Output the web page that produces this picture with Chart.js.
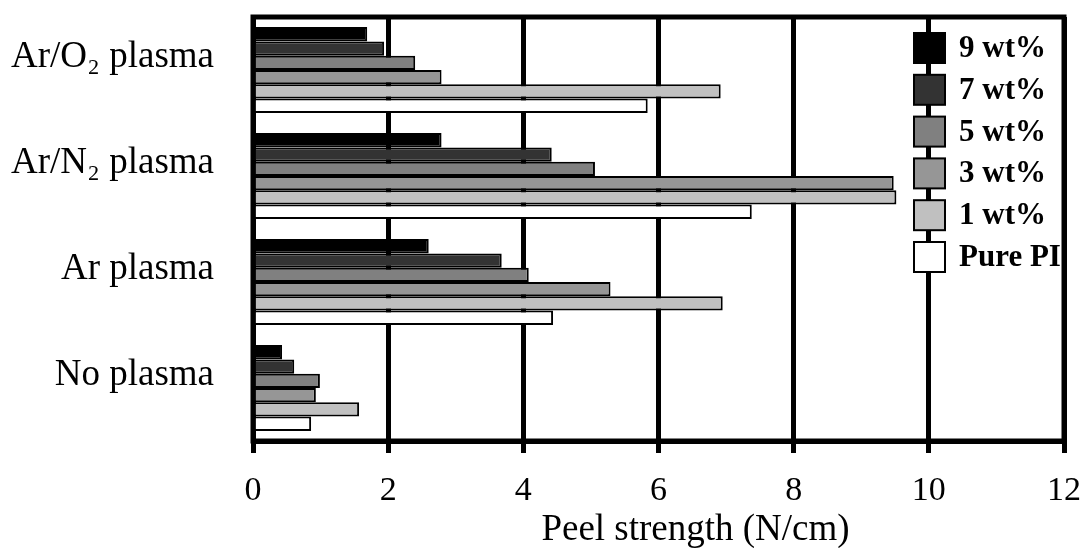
<!DOCTYPE html>
<html>
<head>
<meta charset="utf-8">
<script src="https://cdn.jsdelivr.net/npm/chart.js@4.4.0/dist/chart.umd.min.js"></script>
<style>
  html, body { margin: 0; padding: 0; background: #fff; }
</style>
</head>
<body>
<canvas id="myChart" width="1083" height="548"></canvas>
<script>
'use strict';

// data (N/cm)
var categories = ['Ar/O\u2082 plasma', 'Ar/N\u2082 plasma', 'Ar plasma', 'No plasma'];
var seriesNames = ['9 wt%', '7 wt%', '5 wt%', '3 wt%', '1 wt%', 'Pure PI'];
var seriesColors = ['#000000', '#333333', '#808080', '#969696', '#c0c0c0', '#ffffff'];
var wt9 = [1.69, 2.79, 2.60, 0.43];
var wt7 = [1.94, 4.42, 3.68, 0.61];
var wt5 = [2.40, 5.06, 4.08, 0.99];
var wt3 = [2.79, 9.48, 5.29, 0.93];
var wt1 = [6.92, 9.52, 6.95, 1.57];
var purePI = [5.84, 7.38, 4.44, 0.86];
var xMin = 0, xMax = 12, xStep = 2;

var seriesValues = [wt9, wt7, wt5, wt3, wt1, purePI];

var datasets = [];
for (var i = 0; i < seriesNames.length; i++) {
  datasets.push({
    label: seriesNames[i],
    data: seriesValues[i],
    backgroundColor: seriesColors[i],
    borderColor: '#000',
    borderWidth: 2,
    categoryPercentage: 0.81,
    barPercentage: 1.0
  });
}

// no extra room for overhanging tick labels, the plot area is fixed
function noPad(scale) {
  scale.paddingTop = 0;
  scale.paddingBottom = 0;
  scale.paddingLeft = 0;
  scale.paddingRight = 0;
}

// thick frame around the plot area, drawn over the bar ends
var framePlugin = {
  id: 'frame',
  afterDatasetsDraw: function(chart) {
    var a = chart.chartArea;
    var ctx = chart.ctx;
    ctx.save();
    ctx.strokeStyle = '#000';
    ctx.lineWidth = 5;
    ctx.lineCap = 'round';
    ctx.strokeRect(a.left, a.top, a.right - a.left, a.bottom - a.top);
    ctx.restore();
  }
};

// legend sits inside the plot, upper right
var boxLegend = {
  id: 'boxLegend',
  afterDatasetsDraw: function(chart) {
    var ctx = chart.ctx;
    var x = 914, y = 33, w = 31, h = 30, step = 41.8;
    ctx.save();
    ctx.font = 'bold 31px "Liberation Serif"';
    ctx.textBaseline = 'middle';
    ctx.textAlign = 'left';
    chart.data.datasets.forEach(function(ds, k) {
      var yy = y + k * step;
      ctx.fillStyle = ds.backgroundColor;
      ctx.fillRect(x, yy, w, h);
      ctx.lineWidth = 2;
      ctx.strokeStyle = '#000';
      ctx.strokeRect(x, yy, w, h);
      ctx.fillStyle = '#000';
      ctx.fillText(ds.label, x + 45, yy + h / 2 + 1);
    });
    ctx.restore();
  }
};

var ctx = document.getElementById('myChart').getContext('2d');

var myChart = new Chart(ctx, {
  type: 'bar',
  data: {
    labels: categories,
    datasets: datasets
  },
  options: {
    indexAxis: 'y',
    responsive: false,
    animation: false,
    layout: { padding: { top: 17, right: 19, bottom: 0, left: 0 } },
    plugins: {
      legend: { display: false },
      tooltip: { enabled: false }
    },
    scales: {
      x: {
        min: xMin,
        max: xMax,
        afterFit: function(scale) { scale.height = 107; noPad(scale); },
        ticks: {
          stepSize: xStep,
          color: '#000',
          padding: 18,
          font: { family: '"Liberation Serif"', size: 34 }
        },
        grid: {
          color: '#000',
          lineWidth: 5,
          tickLength: 12,
          tickColor: '#000',
          tickWidth: 5
        },
        border: { color: '#000', width: 5 },
        title: {
          display: true,
          // leading em spaces push the title right, as in the original
          text: '\u2003\u2003Peel strength (N/cm)',
          color: '#000',
          padding: 0,
          font: { family: '"Liberation Serif"', size: 37, lineHeight: 0.95 }
        }
      },
      y: {
        afterFit: function(scale) { scale.width = 253; noPad(scale); },
        ticks: {
          color: '#000',
          padding: 39,
          labelOffset: -13,
          font: { family: '"Liberation Serif"', size: 37 }
        },
        grid: { display: false, drawTicks: false },
        border: { color: '#000', width: 5 }
      }
    }
  },
  plugins: [framePlugin, boxLegend]
});
</script>
</body>
</html>
